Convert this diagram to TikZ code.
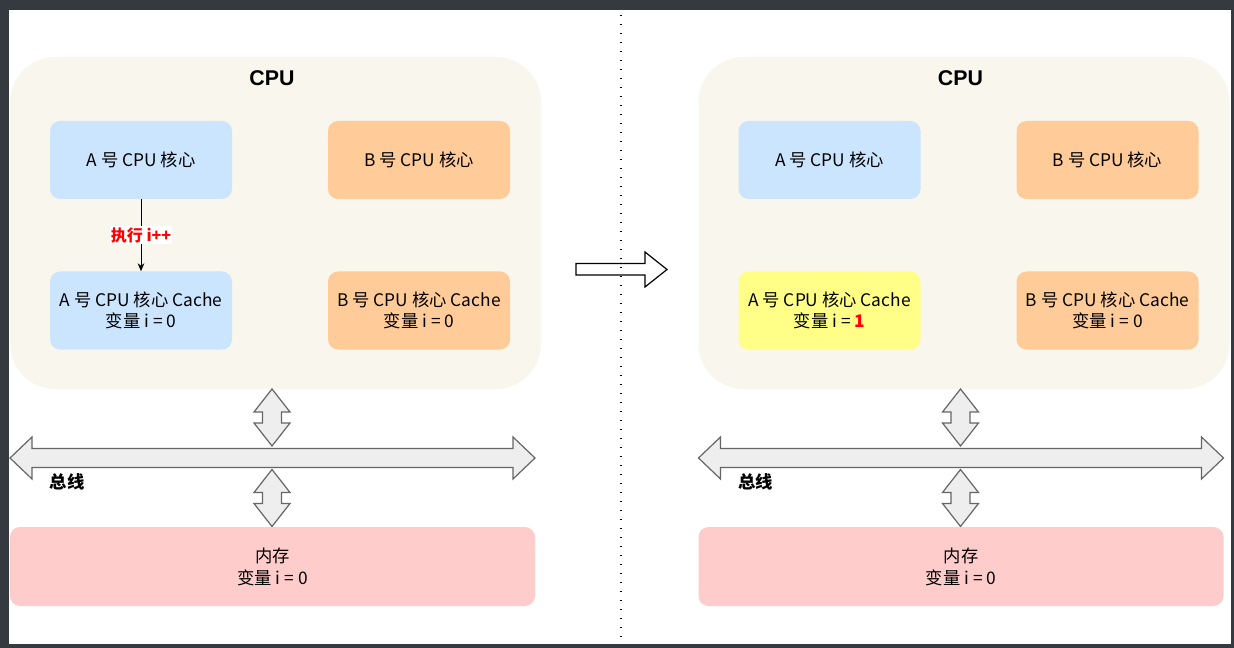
\documentclass[tikz,border=0pt]{standalone}
\usepackage{fontspec}
\setmainfont{Noto Sans CJK SC}
\newfontfamily\headfont{Liberation Sans}
\usetikzlibrary{arrows.meta,positioning}
\definecolor{frame}{RGB}{52,58,64}
\definecolor{cpubg}{RGB}{249,246,237}
\definecolor{coreblue}{RGB}{204,229,255}
\definecolor{coreorange}{RGB}{255,204,153}
\definecolor{coreyellow}{RGB}{255,255,136}
\definecolor{mempink}{RGB}{255,204,204}
\definecolor{busgray}{RGB}{238,238,238}
\definecolor{busline}{RGB}{102,102,102}
\definecolor{hot}{RGB}{255,0,0}
\tikzset{
  >={Stealth[length=6pt,width=5pt]},
  cpubox/.style={fill=cpubg,rounded corners=34pt,minimum width=398.25pt,minimum height=249pt,inner sep=0pt},
  core/.style={fill=#1,rounded corners=7.5pt,minimum width=136.5pt,minimum height=58.5pt,
    inner sep=0pt,align=center,font=\fontsize{13}{16}\selectfont},
  core/.default=coreblue,
  mem/.style={fill=mempink,rounded corners=7.5pt,minimum width=393.75pt,minimum height=59.25pt,
    inner sep=0pt,align=center,font=\fontsize{13}{16.5}\selectfont},
  head/.style={font=\headfont\bfseries\fontsize{16}{18}\selectfont},
  buslabel/.style={font=\bfseries\fontsize{13}{15}\selectfont},
  tag/.style={fill=white,text=hot,inner sep=1pt,font=\bfseries\fontsize{12}{14}\selectfont},
  % hollow arrows
  pics/bus/.style={code={
    \filldraw[busline,fill=busgray,line width=0.9pt] (-262.5,0) -- (-240.5,-21) -- (-240.5,-9.5) -- (240.5,-9.5)
      -- (240.5,-21) -- (262.5,0) -- (240.5,21) -- (240.5,9.5) -- (-240.5,9.5) -- (-240.5,21) -- cycle;
  }},
  pics/link/.style={code={
    \filldraw[busline,fill=busgray,line width=0.9pt] (0,-28.5) -- (18,-5.5) -- (9.5,-5.5) -- (9.5,5.5) -- (18,5.5)
      -- (0,28.5) -- (-18,5.5) -- (-9.5,5.5) -- (-9.5,-5.5) -- (-18,-5.5) -- cycle;
  }},
}
\begin{document}
\begin{tikzpicture}[x=0.75pt,y=-0.75pt]
  \useasboundingbox (0,0) rectangle (1234,648);
  \fill[frame] (0,0) rectangle (1234,648);
  \fill[white] (9,10) rectangle (1231,644);
  % before / after
  \foreach \p/\dx/\tint/\val in {L/0/coreblue/0,R/688.5/coreyellow/{\textcolor{hot}{\bfseries 1}}}{
    \begin{scope}[shift={(\dx,0)}]
      \node[cpubox] (cpu\p) at (275.5,223) {};
      \node[head] (cpulabel\p) at (272,78) {CPU};
      \node[core=coreblue] (coreA\p) at (141,160) {A 号 CPU 核心};
      \node[core=coreorange] (coreB\p) at (419,160) {B 号 CPU 核心};
      \node[core=\tint] (cacheA\p) at (141,310.5) {A 号 CPU 核心 Cache\\变量 i = \val};
      \node[core=coreorange] (cacheB\p) at (419,310.5) {B 号 CPU 核心 Cache\\变量 i = 0};
      \pic at (272.5,458) {bus};
      \node[buslabel] (buslabel\p) at (67,482) {总线};
      \pic at (272,417.5) {link};
      \pic at (272,498) {link};
      \node[mem] (mem\p) at (272.5,566.5) {内存\\变量 i = 0};
    \end{scope}
  }
  \draw[->,line width=0.75pt] (coreAL) -- node[tag] {执行 i++} (cacheAL);
  % transition
  \filldraw[black,fill=white,line width=0.9pt] (576,263.5) -- (645,263.5) -- (645,252) -- (667,269.5)
    -- (645,287) -- (645,275) -- (576,275) -- cycle;
  \draw[black,line width=1.1pt,dash pattern=on 1.1pt off 5.65pt] (621,15) -- (621,644);
\end{tikzpicture}
\end{document}
